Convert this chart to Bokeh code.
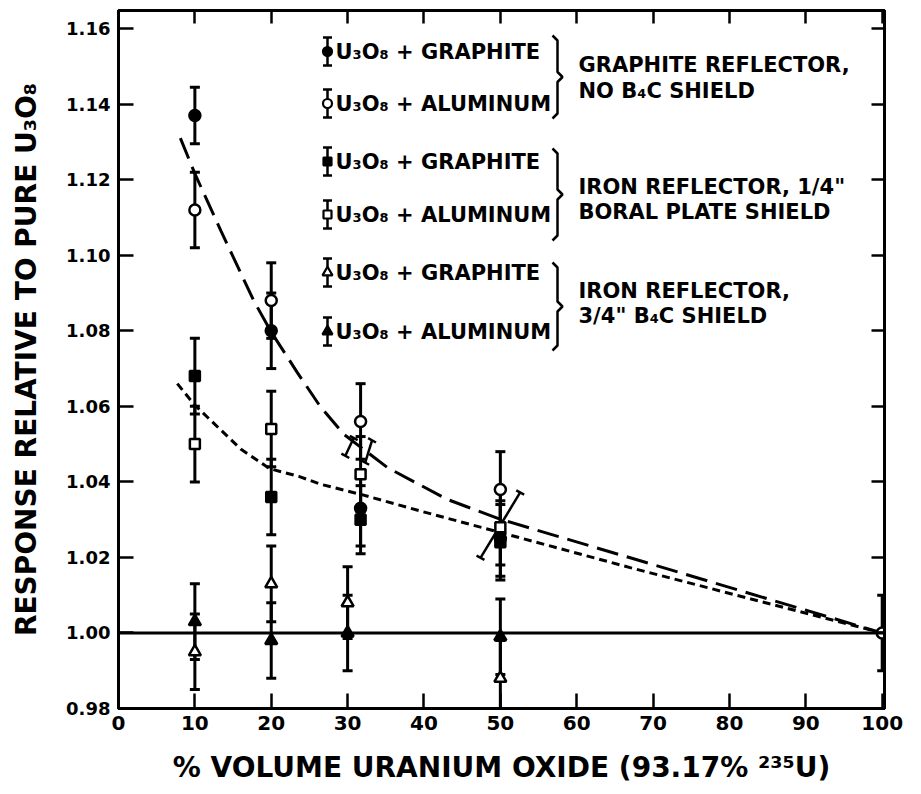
from bokeh.plotting import figure
from bokeh.models import Span, LinearAxis, FixedTicker, Range1d, NumeralTickFormatter, CustomJSTickFormatter
from bokeh.embed import file_html
from bokeh.resources import INLINE
from bokeh.core.properties import value

# ---------------- data ----------------
x_ticks = [0, 10, 20, 30, 40, 50, 60, 70, 80, 90, 100]
y_ticks = [0.98, 1.00, 1.02, 1.04, 1.06, 1.08, 1.10, 1.12, 1.14, 1.16]

# graphite reflector, no B4C shield
gr_gra_x = [10, 20, 31.7, 50]
gr_gra_y = [1.137, 1.080, 1.033, 1.025]
gr_gra_e = [0.0075, 0.010, 0.010, 0.010]

gr_alu_x = [10, 20, 31.7, 50, 100]
gr_alu_y = [1.112, 1.088, 1.056, 1.038, 1.000]
gr_alu_e = [0.010, 0.010, 0.010, 0.010, 0.010]

# iron reflector, 1/4" boral plate shield
fe14_gra_x = [10, 20, 31.7, 50]
fe14_gra_y = [1.068, 1.036, 1.030, 1.024]
fe14_gra_e = [0.010, 0.010, 0.009, 0.010]

fe14_alu_x = [10, 20, 31.7, 50]
fe14_alu_y = [1.050, 1.054, 1.042, 1.028]
fe14_alu_e = [0.010, 0.010, 0.010, 0.010]

# iron reflector, 3/4" B4C shield
fe34_gra_x = [10, 20, 30, 50]
fe34_gra_y = [0.995, 1.013, 1.008, 0.988]
fe34_gra_e = [0.010, 0.010, 0.0095, 0.010]

fe34_alu_x = [10, 20, 30, 50]
fe34_alu_y = [1.003, 0.998, 1.000, 0.999]
fe34_alu_e = [0.010, 0.010, 0.010, 0.010]

# fitted curves
curve_gr_x = [8.1, 10, 13.4, 17.7, 19.9, 23.4, 26.4, 29.5, 35.2, 43, 50, 67, 100]
curve_gr_y = [1.131, 1.1216, 1.1065, 1.088, 1.080, 1.069, 1.060, 1.0526, 1.0438, 1.0354, 1.0301, 1.0199, 1.000]
curve_fe_x = [7.7, 10, 16.0, 19.8, 23.7, 26.4, 31.7, 39.5, 50, 67, 100]
curve_fe_y = [1.066, 1.0603, 1.0487, 1.0435, 1.0414, 1.0394, 1.0367, 1.0323, 1.0266, 1.0173, 1.000]

# tilted uncertainty bars on the curves
tilt_x0 = [29.7, 32.3, 47.4]
tilt_y0 = [1.0469, 1.0451, 1.0199]
tilt_x1 = [30.8, 33.2, 52.6]
tilt_y1 = [1.0516, 1.0510, 1.0372]

legend_labels = ["U₃O₈ + GRAPHITE", "U₃O₈ + ALUMINUM",
                 "U₃O₈ + GRAPHITE", "U₃O₈ + ALUMINUM",
                 "U₃O₈ + GRAPHITE", "U₃O₈ + ALUMINUM"]
group_labels = [["GRAPHITE REFLECTOR,", "NO B₄C SHIELD"],
                ["IRON REFLECTOR, 1/4\"", "BORAL PLATE SHIELD"],
                ["IRON REFLECTOR,", "3/4\" B₄C SHIELD"]]

x_title = "% VOLUME URANIUM OXIDE (93.17% ²³⁵U)"
y_title = "RESPONSE RELATIVE TO PURE U₃O₈"

# ---------------- layout ----------------
FONT = "DejaVu Sans"
X0, X1 = 0, 100.3
Y0, Y1 = 0.98, 1.1648
FL, FT, FW, FH = 118, 10, 766, 698   # frame position in figure (px)

def xd(px):
    return X0 + (px - FL) / FW * (X1 - X0)

def yd(py):
    return Y0 + (FT + FH - py) / FH * (Y1 - Y0)

p = figure(width=905, height=786, output_backend="svg", toolbar_location=None,
           x_range=Range1d(X0, X1), y_range=Range1d(Y0, Y1),
           min_border_left=118, min_border_right=21, min_border_top=10, min_border_bottom=78,
           background_fill_color="white", border_fill_color="white")
p.grid.visible = False
p.outline_line_color = "black"
p.outline_line_width = 3

for ax in (p.xaxis[0], p.yaxis[0]):
    ax.axis_line_width = 3
    ax.major_tick_line_width = 2.5
    ax.major_tick_in = 15
    ax.major_tick_out = 0
    ax.minor_tick_line_color = None
    ax.major_label_text_font = FONT
    ax.major_label_text_font_style = "bold"
    ax.major_label_text_color = "black"
    ax.axis_label_text_font = FONT
    ax.axis_label_text_font_style = "bold"
    ax.axis_label_text_font_size = "28px"
    ax.axis_label_text_color = "black"

p.xaxis[0].major_label_text_font_size = "20px"
p.yaxis[0].major_label_text_font_size = "18px"
p.xaxis[0].ticker = FixedTicker(ticks=x_ticks)
p.yaxis[0].ticker = FixedTicker(ticks=y_ticks)
p.yaxis[0].formatter = NumeralTickFormatter(format="0.00")
p.xaxis[0].major_label_standoff = 7
p.yaxis[0].major_label_standoff = 8
p.xaxis[0].axis_label = x_title
p.yaxis[0].axis_label = y_title
p.xaxis[0].axis_label_standoff = 18
p.yaxis[0].axis_label_standoff = 20

empty = CustomJSTickFormatter(code="return ''")
top_ax = LinearAxis(ticker=FixedTicker(ticks=x_ticks), formatter=empty)
right_ax = LinearAxis(ticker=FixedTicker(ticks=y_ticks), formatter=empty)
for ax in (top_ax, right_ax):
    ax.axis_line_width = 3
    ax.major_tick_line_width = 2.5
    ax.major_tick_in = 13
    ax.major_tick_out = 0
    ax.minor_tick_line_color = None
    ax.major_label_standoff = 0
    ax.major_label_text_font_size = "1px"
p.add_layout(top_ax, "above")
p.add_layout(right_ax, "right")

p.add_layout(Span(location=1.0, dimension="width", line_color="black", line_width=3))

# curves
p.line(curve_gr_x, curve_gr_y, line_color="black", line_width=3, line_dash="22 9")
p.line(curve_fe_x, curve_fe_y, line_color="black", line_width=3, line_dash="8 5")
p.segment(tilt_x0, tilt_y0, tilt_x1, tilt_y1, line_color="black", line_width=2.5)
p.scatter(tilt_x0 + tilt_x1, tilt_y0 + tilt_y1, marker="dash", size=9, angle=-0.5,
          line_color="black", line_width=2.5)

series = [
    (gr_gra_x, gr_gra_y, gr_gra_e, "circle", "black", 11),
    (gr_alu_x, gr_alu_y, gr_alu_e, "circle", "white", 11),
    (fe14_gra_x, fe14_gra_y, fe14_gra_e, "square", "black", 10),
    (fe14_alu_x, fe14_alu_y, fe14_alu_e, "square", "white", 10),
    (fe34_gra_x, fe34_gra_y, fe34_gra_e, "triangle", "white", 12),
    (fe34_alu_x, fe34_alu_y, fe34_alu_e, "triangle", "black", 12),
]

# error bars first
for xs, ys, es, mk, fill, sz in series:
    lo = [y - e for y, e in zip(ys, es)]
    hi = [y + e for y, e in zip(ys, es)]
    p.segment(xs, lo, xs, hi, line_color="black", line_width=3)
    p.scatter(xs + xs, lo + hi, marker="dash", size=10, line_color="black", line_width=3)
# markers on top
for xs, ys, es, mk, fill, sz in series:
    p.scatter(xs, ys, marker=mk, size=sz, fill_color=fill, line_color="black", line_width=2.5)

# ---------------- legend ----------------
row_py = [51, 103, 161, 214, 272, 331]
mk_px = 327
leg_x = [xd(mk_px)] * 6
leg_y = [yd(v) for v in row_py]
leg_lo = [yd(v + 14) for v in row_py]
leg_hi = [yd(v - 14) for v in row_py]
p.segment(leg_x, leg_lo, leg_x, leg_hi, line_color="black", line_width=2.5)
p.scatter(leg_x + leg_x, leg_lo + leg_hi, marker="dash", size=9, line_color="black", line_width=2.5)
for i, (xs, ys, es, mk, fill, sz) in enumerate(series):
    p.scatter([leg_x[i]], [leg_y[i]], marker=mk, size=sz - 2, fill_color=fill,
              line_color="black", line_width=2.2)
p.text([xd(335)] * 6, leg_y, text=legend_labels, text_font=value(FONT),
       text_font_style="bold", text_font_size="21px", text_baseline="middle",
       text_align="left", text_color="black")

# braces
brace_spans = [(35, 118), (148, 240), (262, 350)]
bx = 556
bxs, bys = [], []
for t, b in brace_spans:
    m = (t + b) / 2
    pts = [(bx - 4, t), (bx + 1, t + 5), (bx + 1, m - 5), (bx + 6, m), (bx + 1, m + 5), (bx + 1, b - 5), (bx - 4, b)]
    bxs.append([xd(a) for a, _ in pts])
    bys.append([yd(c) for _, c in pts])
p.multi_line(bxs, bys, line_color="black", line_width=2.5)

grp_py = [(64, 90), (186, 211), (290, 315)]
gx, gy, gt = [], [], []
for (a, b), labs in zip(grp_py, group_labels):
    gx += [xd(578), xd(578)]
    gy += [yd(a), yd(b)]
    gt += labs
p.text(gx, gy, text=gt, text_font=value(FONT), text_font_style="bold",
       text_font_size="21px", text_baseline="middle", text_align="left", text_color="black")

open("out.html", "w").write(file_html(p, INLINE))
